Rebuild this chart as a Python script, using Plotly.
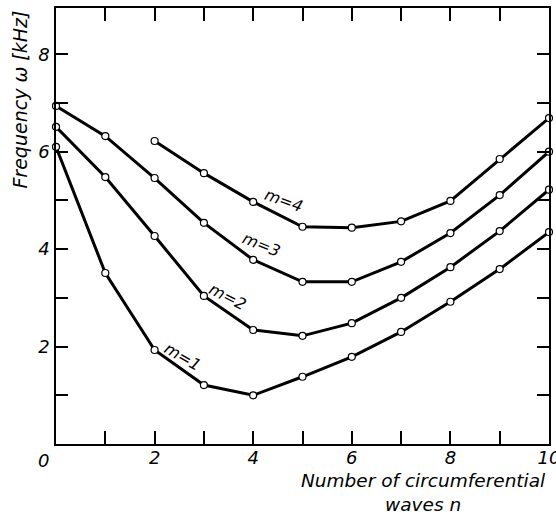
import plotly.graph_objects as go

# Data
n_all = [0, 1, 2, 3, 4, 5, 6, 7, 8, 9, 10]
n_m4 = [2, 3, 4, 5, 6, 7, 8, 9, 10]
freq_m1 = [6.10, 3.51, 1.93, 1.21, 1.00, 1.38, 1.79, 2.30, 2.92, 3.59, 4.35]
freq_m2 = [6.51, 5.48, 4.27, 3.04, 2.34, 2.22, 2.48, 3.00, 3.63, 4.37, 5.22]
freq_m3 = [6.94, 6.32, 5.46, 4.54, 3.78, 3.33, 3.33, 3.74, 4.33, 5.11, 6.00]
freq_m4 = [6.22, 5.56, 4.97, 4.46, 4.44, 4.57, 4.99, 5.85, 6.69]

x_tickvals = [0, 2, 4, 6, 8, 10]
x_ticktext = ["", "2", "4", "6", "8", "10"]
y_tickvals = [2, 4, 6, 8]
y_ticktext = ["2", "4", "6", "8"]

curve_labels = ["m=1", "m=2", "m=3", "m=4"]
label_x = [2.56, 3.47, 4.16, 4.62]
label_y = [1.79, 3.02, 4.10, 4.99]
label_angle = [30, 27, 22, 20]

FONT = "DejaVu Sans"

fig = go.Figure()
for xs, ys in [(n_all, freq_m1), (n_all, freq_m2), (n_all, freq_m3), (n_m4, freq_m4)]:
    fig.add_trace(go.Scatter(
        x=xs, y=ys, mode="lines+markers",
        line=dict(color="black", width=3),
        marker=dict(symbol="circle", size=7, color="white",
                    line=dict(color="black", width=1.2)),
        cliponaxis=False, showlegend=False,
    ))

for t, lx, ly, ang in zip(curve_labels, label_x, label_y, label_angle):
    fig.add_annotation(x=lx, y=ly, text=t, showarrow=False, textangle=ang,
                       font=dict(family=FONT, size=16, color="black", style="italic"))

# shared origin label
fig.add_annotation(x=0, y=0, text="0", showarrow=False, xshift=-13, yshift=-16,
                   xanchor="center", yanchor="middle",
                   font=dict(family=FONT, size=18, color="black", style="italic"))

fig.add_annotation(xref="paper", yref="paper", x=-0.073, y=0.79,
                   xanchor="center", yanchor="middle",
                   text="Frequency ω [kHz]", showarrow=False, textangle=-90,
                   font=dict(family=FONT, size=19, color="black", style="italic"))
fig.add_annotation(xref="paper", yref="paper", x=0.746, y=-0.112,
                   text="Number of circumferential<br>waves n", showarrow=False,
                   align="center", xanchor="center", yanchor="middle",
                   font=dict(family=FONT, size=18.5, color="black", style="italic"))

fig.update_xaxes(range=[0, 10], tickvals=x_tickvals, ticktext=x_ticktext,
                 ticks="inside", ticklen=13, tickwidth=1.5, tickcolor="black",
                 minor=dict(dtick=1, tick0=0, ticks="inside", ticklen=13, tickwidth=1.5, tickcolor="black"),
                 showline=True, linecolor="black", linewidth=1.5, mirror="ticks",
                 showgrid=False, zeroline=False, automargin=False,
                 ticklabeloverflow="allow", ticklabelstandoff=-3,
                 tickfont=dict(family=FONT, size=18, color="black", style="italic"))
fig.update_yaxes(range=[0, 8.95], tickvals=y_tickvals, ticktext=y_ticktext,
                 ticks="inside", ticklen=12, tickwidth=1.5, tickcolor="black",
                 minor=dict(dtick=1, tick0=0, ticks="inside", ticklen=12, tickwidth=1.5, tickcolor="black"),
                 showline=True, linecolor="black", linewidth=1.5, mirror="ticks",
                 showgrid=False, zeroline=False, automargin=False,
                 ticklabelstandoff=1,
                 tickfont=dict(family=FONT, size=18, color="black", style="italic"))

fig.update_layout(width=556, height=515,
                  margin=dict(l=56, r=7, t=8, b=71),
                  plot_bgcolor="white", paper_bgcolor="white")

fig.write_html("out.html", config={"displayModeBar": False},
               post_script="document.body.style.margin='0';")
